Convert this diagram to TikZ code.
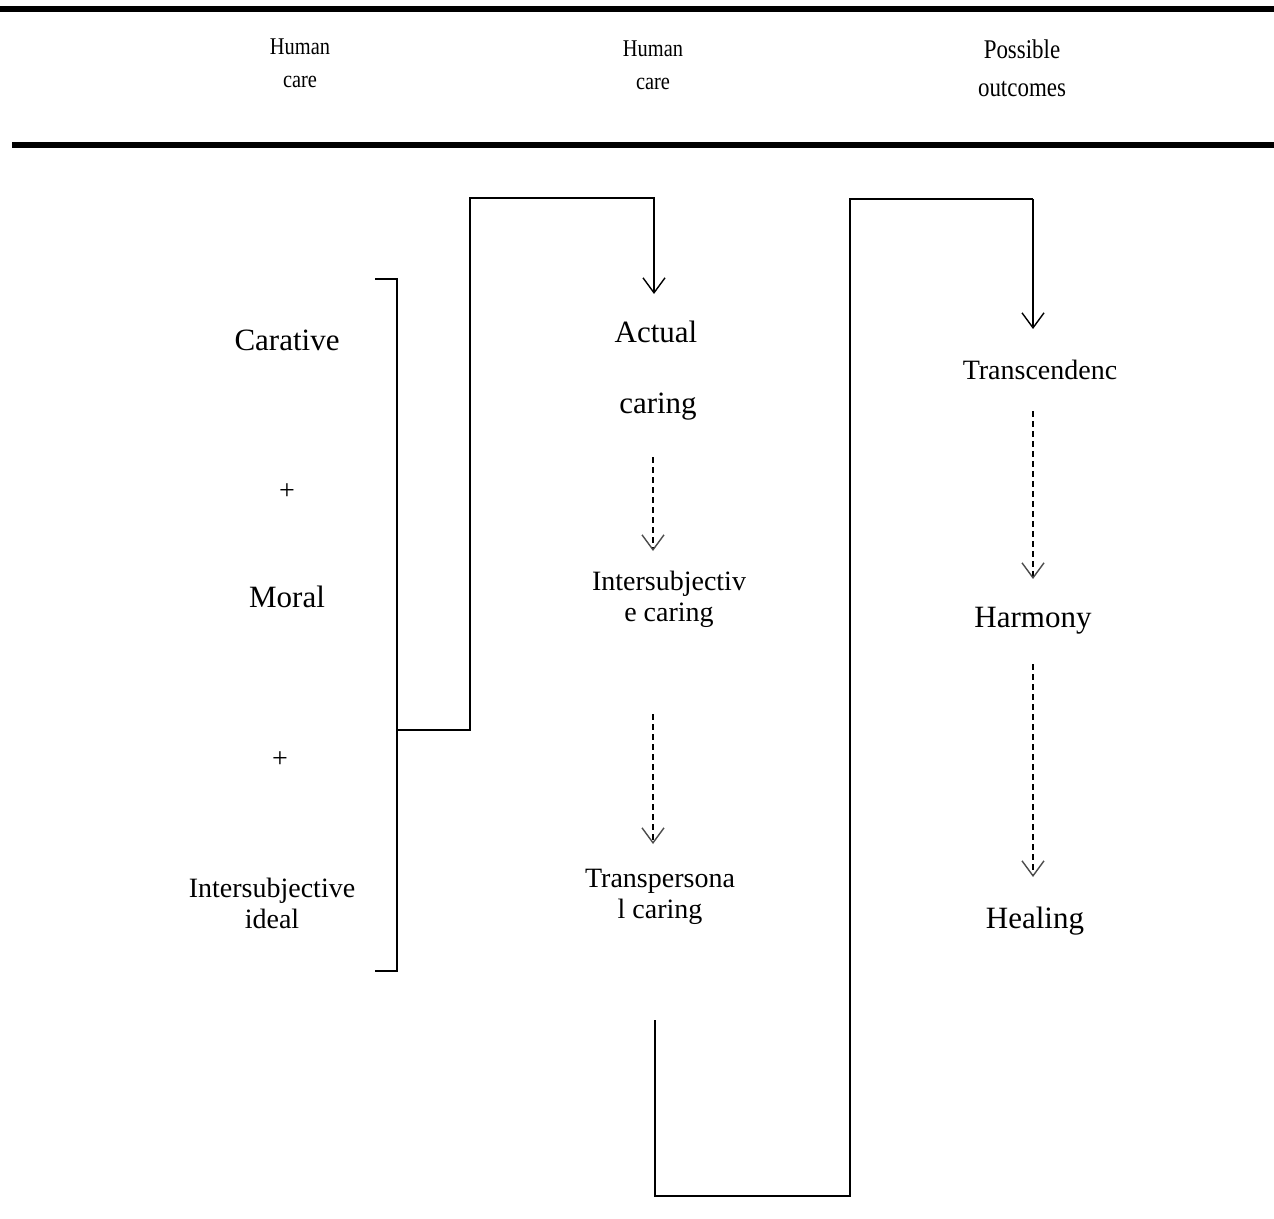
\documentclass[tikz,border=0pt]{standalone}
\usepackage{fontspec}
\setmainfont{Liberation Serif}
\usetikzlibrary{arrows.meta}
\tikzset{
  big/.style={font=\fontsize{31}{36}\selectfont, inner sep=0pt, align=center},
  mid/.style={font=\fontsize{28}{31}\selectfont, inner sep=0pt, align=center},
  hdr/.style={font=\fontsize{24}{33}\selectfont, inner sep=0pt, align=center, xscale=0.85},
  line/.style={line width=1.6pt},
  rule/.style={line width=6pt},
  tip/.style={-{Straight Barb[length=15pt,width=22pt,line width=1.4pt]}},
  solidarrow/.style={line, tip},
  dasharrow/.style={line width=1.6pt, dash pattern=on 6pt off 4pt, -{Straight Barb[length=15pt,width=22pt,line width=1.4pt,color=black!70]}}
}
\begin{document}
\begin{tikzpicture}[x=1pt,y=-1pt]
\useasboundingbox (0,0) rectangle (1274,1218);
% rules
\coordinate (r1a) at (0,9); \coordinate (r1b) at (1274,9);
\coordinate (r2a) at (12,145); \coordinate (r2b) at (1274,145);
\draw[rule] (r1a) -- (r1b);
\draw[rule] (r2a) -- (r2b);
% headers
\node[hdr] (h1) at (300,63) {Human\\care};
\node[hdr] (h2) at (653,65) {Human\\care};
\node[hdr, font=\fontsize{27}{38}\selectfont] (h3) at (1022,68) {Possible\\outcomes};
% left column
\node[big] (carative) at (287,340) {Carative};
\node[mid] (plus1) at (287,492) {+};
\node[big] (moral) at (287,597) {Moral};
\node[mid] (plus2) at (280,760) {+};
\node[mid] (ideal) at (272,903) {Intersubjective\\ideal};
% middle column
\node[big] (actual) at (656,332) {Actual};
\node[big] (caring) at (658,407) {caring};
\node[mid] (inter) at (669,599) {Intersubjectiv\\e caring};
\node[mid] (trans) at (660,897) {Transpersona\\l caring};
% right column
\node[mid] (transc) at (1040,370) {Transcendenc};
\node[big] (harmony) at (1033,621) {Harmony};
\node[big] (healing) at (1035,921) {Healing};
% bracket
\coordinate (bt) at (375,279); \coordinate (btr) at (397,279);
\coordinate (bb) at (375,971); \coordinate (bbr) at (397,971);
\coordinate (bm) at (397,730); \coordinate (e1) at (470,730);
\coordinate (e2) at (470,198); \coordinate (e3) at (654,198);
\coordinate (a1) at (654,294);
\draw[line] (bt) -- (btr) -- (bbr) -- (bb);
\draw[solidarrow] (bm) -- (e1) -- (e2) -- (e3) -- (a1);
% second connector
\coordinate (s0) at (655,1020); \coordinate (s1) at (655,1196);
\coordinate (s2) at (850,1196); \coordinate (s3) at (850,199);
\coordinate (s4) at (1033,199); \coordinate (a2) at (1033,329);
\coordinate (a2b) at (1033,326);
\draw[line] (s0) -- (s1) -- (s2) -- (s3) -- (s4);
\draw[line width=2.6pt] (s4) -- (a2b);
\draw[line width=1pt, tip] (a2b) -- (a2);
% dashed arrows
\coordinate (d1a) at (653,457); \coordinate (d1b) at (653,551);
\coordinate (d2a) at (653,714); \coordinate (d2b) at (653,844);
\coordinate (d3a) at (1033,411); \coordinate (d3b) at (1033,579);
\coordinate (d4a) at (1033,664); \coordinate (d4b) at (1033,877);
\draw[dasharrow] (d1a) -- (d1b);
\draw[dasharrow] (d2a) -- (d2b);
\draw[dasharrow] (d3a) -- (d3b);
\draw[dasharrow] (d4a) -- (d4b);
\end{tikzpicture}
\end{document}
